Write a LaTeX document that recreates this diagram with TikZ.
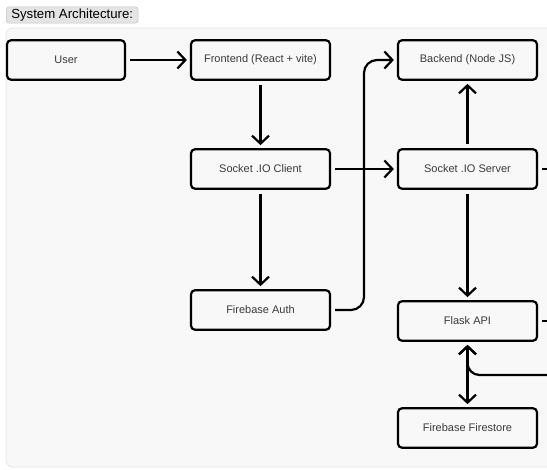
\documentclass[tikz,border=0pt]{standalone}
\usepackage{fontspec}
\setmainfont{Liberation Sans}
\usetikzlibrary{arrows.meta,calc}
\definecolor{panelbg}{HTML}{F8F8F8}
\definecolor{panelborder}{HTML}{E6E6E6}
\definecolor{titlebg}{HTML}{E4E4E4}
\definecolor{titleborder}{HTML}{C4C4C4}
\definecolor{textgrey}{HTML}{3A3A3A}
\begin{document}
\begin{tikzpicture}[x=1pt,y=-1pt,
  box/.style={draw=black, line width=2.2pt, rounded corners=4pt, fill=panelbg,
    minimum width=139pt, minimum height=39.5pt, inner sep=0pt,
    font=\fontsize{11}{13}\selectfont, text=textgrey},
  tip/.tip={Straight Barb[length=8pt,width=17pt,line width=2.2pt]},
  conn/.style={line width=2.2pt, draw=black},
  arr/.style={conn, -tip, shorten >=3pt, shorten <=4pt},
  titlebox/.style={draw=titleborder, fill=titlebg, rounded corners=3pt, line width=0.6pt,
    inner xsep=5pt, inner ysep=2pt, font=\fontsize{13.2}{15}\selectfont, text=black}]
\useasboundingbox (0,0) rectangle (547,470);
\fill[white] (0,0) rectangle (547,470);
% panel
\draw[fill=panelbg, draw=panelborder, line width=0.8pt, rounded corners=7pt] (6,28) rectangle (570,467);
% title
\node[titlebox, anchor=west] (title) at (6,15) {System Architecture:};
% nodes
\node[box, minimum width=118pt] (user) at (66,60) {User};
\node[box] (frontend) at (260.5,60) {Frontend (React + vite)};
\node[box] (backend) at (467.5,60) {Backend (Node JS)};
\node[box] (client) at (260.5,169) {Socket .IO Client};
\node[box] (server) at (467.5,169) {Socket .IO Server};
\node[box] (auth) at (260.5,310) {Firebase Auth};
\node[box] (flask) at (467.5,321) {Flask API};
\node[box] (firestore) at (467.5,428) {Firebase Firestore};
% helper coordinates
\coordinate (rightedge) at (548,0);
\coordinate (bendx) at (364,0);
\coordinate (feed) at (548,375);
% connectors
\draw[arr] (user) -- (frontend);
\draw[arr] (frontend) -- (client);
\draw[arr] (client) -- (auth);
\draw[arr] (client) -- (server);
\draw[arr, rounded corners=13pt] (auth.east) -| (bendx |- backend.west) -- (backend.west);
\draw[arr] (server) -- (backend);
\draw[arr] (server) -- (flask);
\draw[arr, tip-tip, shorten <=3pt] (flask) -- (firestore);
\draw[arr, rounded corners=12pt, shorten <=0pt] (feed) -| (flask.south);
\draw[conn] ([xshift=4pt]server.east) -- (server.east -| rightedge);
\draw[conn] ([xshift=4pt]flask.east) -- (flask.east -| rightedge);
\end{tikzpicture}
\end{document}
